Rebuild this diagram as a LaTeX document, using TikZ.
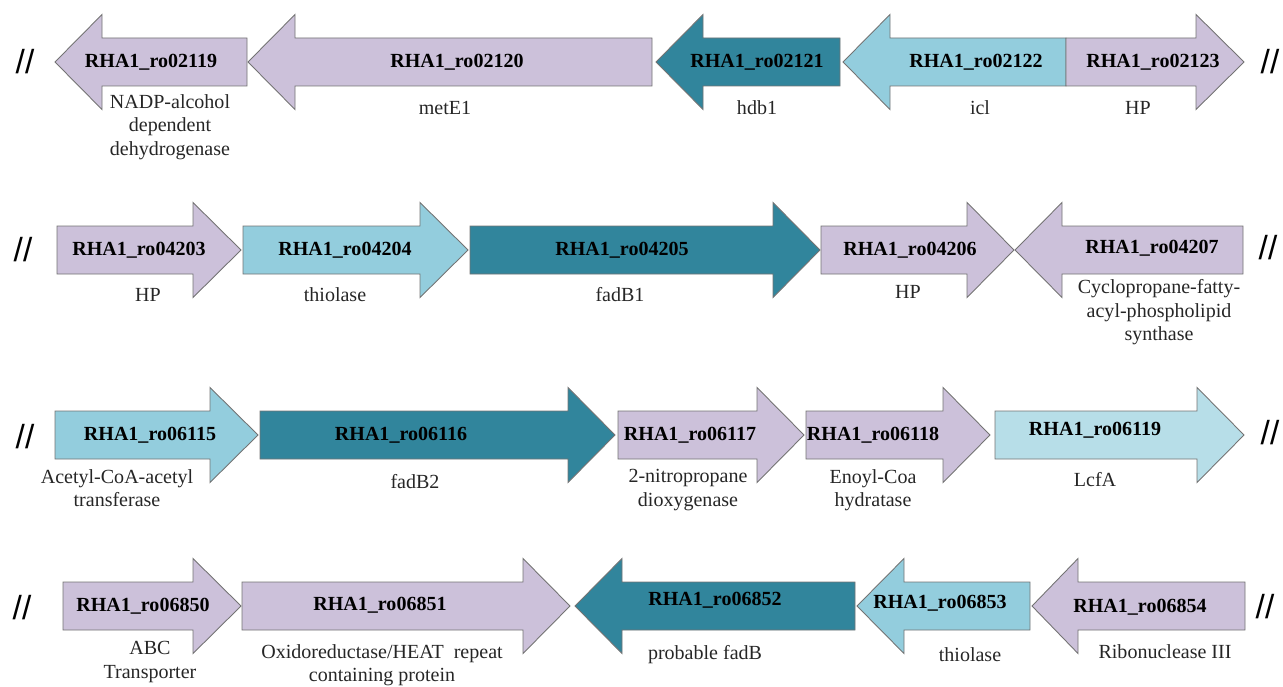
\documentclass[tikz,border=0pt]{standalone}
\usepackage{fontspec}
\setmainfont{Liberation Serif}
\newfontfamily\slashfont{Liberation Sans}
\usepackage{tikz}
\usetikzlibrary{positioning}
\definecolor{lavender}{RGB}{204,193,218}
\definecolor{skyblue}{RGB}{147,205,221}
\definecolor{paleblue}{RGB}{183,222,232}
\definecolor{darkteal}{RGB}{49,133,156}
\definecolor{edgegray}{RGB}{115,115,115}
\definecolor{labelgray}{RGB}{38,38,38}
\newcommand{\rgene}[5]{\draw[#1] (#2,#5-24) -- (#3,#5-24) -- (#3,#5-47.5) -- (#4,#5) -- (#3,#5+47.5) -- (#3,#5+24) -- (#2,#5+24) -- cycle;}
\newcommand{\lgene}[5]{\draw[#1] (#2,#5) -- (#3,#5-47.5) -- (#3,#5-24) -- (#4,#5-24) -- (#4,#5+24) -- (#3,#5+24) -- (#3,#5+47.5) -- cycle;}

\begin{document}
\begin{tikzpicture}[x=0.02cm, y=-0.02cm,
  gene/.style={fill=#1, draw=edgegray, line width=0.5pt, line join=miter},
  gname/.style={inner sep=0pt, font=\fontsize{11.4}{13.4}\selectfont\bfseries},
  gdesc/.style={inner sep=0pt, align=center, text=labelgray, font=\fontsize{11.4}{13.4}\selectfont},
  cut/.style={inner sep=0pt, font=\slashfont\fontsize{19}{19}\selectfont}]
\useasboundingbox (0,0) rectangle (1283,686);

\lgene{gene=lavender}{55}{102}{247}{62}
\lgene{gene=lavender}{248}{295}{652}{62}
\lgene{gene=darkteal}{656}{703}{840}{62}
\lgene{gene=skyblue}{843}{890}{1066}{62}
\rgene{gene=lavender}{1066}{1196}{1244}{62}
\node[cut] (c1l) at (25,62) {//};
\node[cut] (c1r) at (1270,62) {//};
\node[gname] (g02119) at (151,62) {RHA1\_ro02119};
\node[gname] (g02120) at (457,62) {RHA1\_ro02120};
\node[gname] (g02121) at (757,62) {RHA1\_ro02121};
\node[gname] (g02122) at (976,62) {RHA1\_ro02122};
\node[gname] (g02123) at (1153,62) {RHA1\_ro02123};
\node[gdesc, anchor=north] (d02119) at (170,94) {NADP-alcohol\\dependent\\dehydrogenase};
\node[gdesc] (d02120) at (445,108) {metE1};
\node[gdesc] (d02121) at (757,108) {hdb1};
\node[gdesc] (d02122) at (980,108) {icl};
\node[gdesc] (d02123) at (1138,108) {HP};

\rgene{gene=lavender}{57}{193}{241}{250}
\rgene{gene=skyblue}{243}{420}{468}{250}
\rgene{gene=darkteal}{470}{773}{820}{250}
\rgene{gene=lavender}{821}{967}{1014}{250}
\lgene{gene=lavender}{1015}{1062}{1243}{250}
\node[cut] (c2l) at (23,250) {//};
\node[cut] (c2r) at (1268,248) {//};
\node[gname] (g04203) at (139,250) {RHA1\_ro04203};
\node[gname] (g04204) at (345,250) {RHA1\_ro04204};
\node[gname] (g04205) at (622,250) {RHA1\_ro04205};
\node[gname] (g04206) at (910,250) {RHA1\_ro04206};
\node[gname] (g04207) at (1152,248) {RHA1\_ro04207};
\node[gdesc] (d04203) at (148,295) {HP};
\node[gdesc] (d04204) at (335,295) {thiolase};
\node[gdesc] (d04205) at (620,295) {fadB1};
\node[gdesc] (d04206) at (908,292) {HP};
\node[gdesc, anchor=north] (d04207) at (1159,279) {Cyclopropane-fatty-\\acyl-phospholipid\\synthase};

\rgene{gene=skyblue}{55}{210}{258}{435}
\rgene{gene=darkteal}{260}{568}{615}{435}
\rgene{gene=lavender}{618}{757}{804}{435}
\rgene{gene=lavender}{806}{943}{990}{435}
\rgene{gene=paleblue}{995}{1197}{1244}{435}
\node[cut] (c3l) at (25,437) {//};
\node[cut] (c3r) at (1270,433) {//};
\node[gname] (g06115) at (150,435) {RHA1\_ro06115};
\node[gname] (g06116) at (401,435) {RHA1\_ro06116};
\node[gname] (g06117) at (690,435) {RHA1\_ro06117};
\node[gname] (g06118) at (873,435) {RHA1\_ro06118};
\node[gname] (g06119) at (1095,430) {RHA1\_ro06119};
\node[gdesc, anchor=north] (d06115) at (117,469) {Acetyl-CoA-acetyl\\transferase};
\node[gdesc] (d06116) at (415,482) {fadB2};
\node[gdesc, anchor=north] (d06117) at (688,469) {2-nitropropane\\dioxygenase};
\node[gdesc, anchor=north] (d06118) at (873,469) {Enoyl-Coa\\hydratase};
\node[gdesc] (d06119) at (1095,480) {LcfA};

\rgene{gene=lavender}{63}{193}{241}{606}
\rgene{gene=lavender}{242}{523}{570}{606}
\lgene{gene=darkteal}{575}{622}{855}{606}
\lgene{gene=skyblue}{857}{904}{1030}{606}
\lgene{gene=lavender}{1032}{1078}{1245}{606}
\node[cut] (c4l) at (22,608) {//};
\node[cut] (c4r) at (1265,607) {//};
\node[gname] (g06850) at (143,606) {RHA1\_ro06850};
\node[gname] (g06851) at (380,605) {RHA1\_ro06851};
\node[gname] (g06852) at (715,600) {RHA1\_ro06852};
\node[gname] (g06853) at (940,603) {RHA1\_ro06853};
\node[gname] (g06854) at (1140,607) {RHA1\_ro06854};
\node[gdesc, anchor=north] (d06850) at (150,641) {ABC\\Transporter};
\node[gdesc, anchor=north] (d06851) at (382,644) {Oxidoreductase/HEAT\ \ repeat\\containing protein};
\node[gdesc] (d06852) at (705,655) {probable fadB};
\node[gdesc] (d06853) at (970,655) {thiolase};
\node[gdesc] (d06854) at (1165,652) {Ribonuclease III};
\end{tikzpicture}
\end{document}
